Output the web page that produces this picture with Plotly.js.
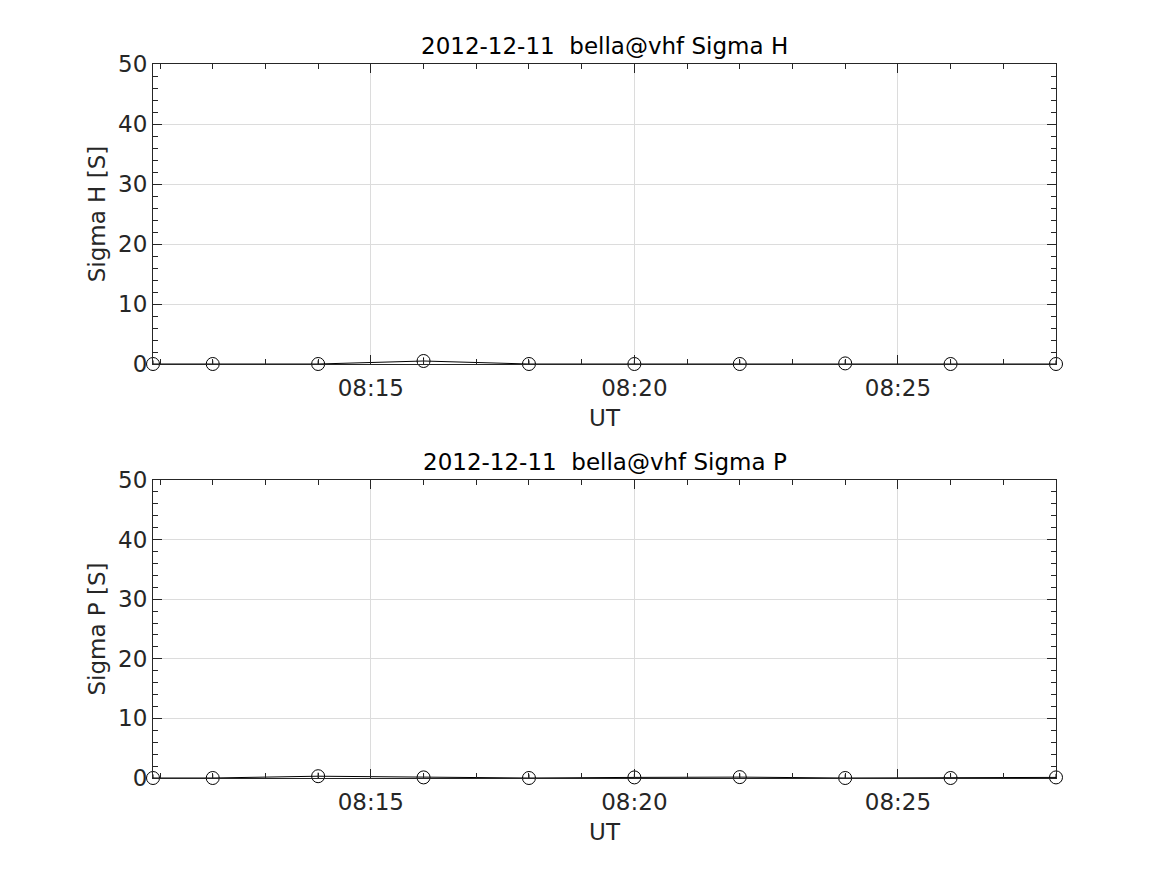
<!DOCTYPE html>
<html>
<head>
<meta charset="utf-8">
<script src="https://cdn.plot.ly/plotly-3.0.1.min.js"></script>
<style>html,body{margin:0;padding:0;background:#fff;}#chart{width:1167px;height:875px;}</style>
</head>
<body>
<div id="chart"></div>
<script>
// Data
const times = ['2012-12-11 08:10:52','2012-12-11 08:12:00','2012-12-11 08:14:00','2012-12-11 08:16:00','2012-12-11 08:18:00','2012-12-11 08:20:00','2012-12-11 08:22:00','2012-12-11 08:24:00','2012-12-11 08:26:00','2012-12-11 08:28:00'];
const sigmaH = [0, 0, 0, 0.5, 0, 0, 0, 0.1, 0, 0];
const sigmaHErr = [0.6, 0.6, 0.6, 0.6, 0.6, 0.6, 0.6, 0.6, 0.6, 0.6];
const sigmaP = [0, 0, 0.3, 0.1, 0, 0.1, 0.15, 0, 0, 0.1];
const sigmaPErr = [0.6, 0.6, 0.6, 0.6, 0.6, 0.6, 0.6, 0.6, 0.6, 0.6];
const titleH = '2012-12-11  bella@vhf Sigma H';
const titleP = '2012-12-11  bella@vhf Sigma P';
const yLabelH = 'Sigma H [S]';
const yLabelP = 'Sigma P [S]';
const xLabel = 'UT';

const FONT = 'DejaVu Sans, sans-serif';
const FS = 23;
const AX = '#262626';

function trace(y, err, xa, ya) {
  return {
    x: times, y: y, xaxis: xa, yaxis: ya, type: 'scatter', mode: 'lines+markers',
    line: {color: '#000', width: 1},
    marker: {symbol: 'circle-open', size: 13, color: '#000', line: {width: 1, color: '#000'}},
    error_y: {type: 'data', array: err, visible: true, color: '#000', thickness: 1, width: 0},
    cliponaxis: false, showlegend: false, hoverinfo: 'x+y'
  };
}

function xaxis(anchor) {
  return {
    anchor: anchor, type: 'date',
    range: ['2012-12-11 08:10:52', '2012-12-11 08:28:00'],
    tick0: '2012-12-11 08:00:00', dtick: 300000, tickformat: '%H:%M',
    ticks: 'inside', ticklen: 9, tickcolor: AX, tickwidth: 1,
    minor: {dtick: 60000, tick0: '2012-12-11 08:00:00', ticks: 'inside', ticklen: 5, tickcolor: AX, showgrid: false},
    showline: true, linecolor: AX, linewidth: 1, mirror: 'ticks',
    showgrid: true, gridcolor: '#dcdcdc', gridwidth: 1, zeroline: false,
    tickfont: {family: FONT, size: FS, color: AX},
    ticklabelstandoff: 3,
    title: {text: xLabel, font: {family: FONT, size: FS, color: AX}, standoff: 10},
    fixedrange: true
  };
}
function yaxis(anchor, domain, label) {
  return {
    anchor: anchor, domain: domain, range: [0, 50], dtick: 10, tick0: 0,
    ticks: 'inside', ticklen: 9, tickcolor: AX, tickwidth: 1,
    minor: {dtick: 2, ticks: 'inside', ticklen: 5, tickcolor: AX, showgrid: false},
    showline: true, linecolor: AX, linewidth: 1, mirror: 'ticks',
    showgrid: true, gridcolor: '#dcdcdc', gridwidth: 1, zeroline: false,
    tickfont: {family: FONT, size: FS, color: AX},
    title: {text: label, font: {family: FONT, size: FS, color: AX}, standoff: 6},
    fixedrange: true
  };
}

const data = [trace(sigmaH, sigmaHErr, 'x', 'y'), trace(sigmaP, sigmaPErr, 'x2', 'y2')];
const topDom = [414/714, 1];
const botDom = [0, 298/714];

const layout = {
  width: 1167, height: 875,
  margin: {l: 153, r: 111, t: 64, b: 97},
  paper_bgcolor: '#fff', plot_bgcolor: '#fff',
  xaxis: xaxis('y'), yaxis: yaxis('x', topDom, yLabelH),
  xaxis2: xaxis('y2'), yaxis2: yaxis('x2', botDom, yLabelP),
  annotations: [
    {text: titleH, xref: 'paper', yref: 'paper', x: 0.5, y: topDom[1], xanchor: 'center', yanchor: 'bottom', yshift: 3, showarrow: false, font: {family: FONT, size: FS, color: '#000'}},
    {text: titleP, xref: 'paper', yref: 'paper', x: 0.5, y: botDom[1], xanchor: 'center', yanchor: 'bottom', yshift: 3, showarrow: false, font: {family: FONT, size: FS, color: '#000'}}
  ],
  font: {family: FONT, size: FS, color: AX}
};
Plotly.newPlot('chart', data, layout, {displayModeBar: false, staticPlot: true});
</script>
</body>
</html>
